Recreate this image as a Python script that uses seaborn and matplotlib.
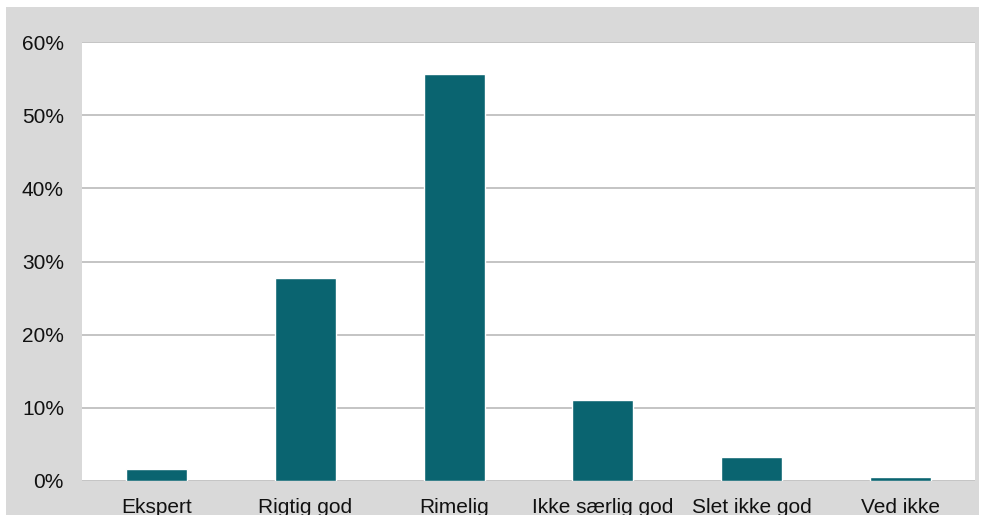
import matplotlib
matplotlib.use("Agg")
import matplotlib.pyplot as plt
import seaborn as sns
import pandas as pd
from matplotlib.patches import Rectangle
from matplotlib.ticker import FuncFormatter

categories = ["Ekspert", "Rigtig god", "Rimelig", "Ikke særlig god", "Slet ikke god", "Ved ikke"]
values = [1.7, 27.8, 55.6, 11.1, 3.3, 0.6]
yticks = [0, 10, 20, 30, 40, 50, 60]

df = pd.DataFrame({"cat": categories, "val": values})

sns.set_theme(style="white")
plt.rcParams["font.family"] = ["Liberation Sans", "DejaVu Sans"]

W, H = 984, 515
fig = plt.figure(figsize=(W / 100, H / 100), dpi=100, facecolor="white")
fig.patches.append(Rectangle((6 / W, 0), (979 - 6) / W, (515 - 7) / H,
                             transform=fig.transFigure, facecolor="#d9d9d9",
                             edgecolor="none", zorder=-10))
ax = fig.add_axes([82 / W, (H - 481) / H, (975 - 82) / W, (481 - 42) / H])
ax.set_zorder(1)
ax.set_facecolor("white")

sns.barplot(data=df, x="cat", y="val", color="#0a6470", width=0.41,
            saturation=1, ax=ax, zorder=3)

ax.set_ylim(0, 60)
ax.set_xlim(-0.5, 5.5)
ax.set_yticks(yticks)
ax.yaxis.set_major_formatter(FuncFormatter(lambda v, p: f"{v:.0f}%"))
ax.grid(axis="y", color="#bfbfbf", linewidth=1.3, zorder=0)
ax.set_axisbelow(True)
for s in ax.spines.values():
    s.set_visible(False)
ax.set_xlabel("")
ax.set_ylabel("")
ax.tick_params(axis="y", length=0, pad=13, labelsize=15, labelcolor="#111111")
ax.tick_params(axis="x", length=0, pad=12, labelsize=15, labelcolor="#111111")

fig.savefig("out.png", dpi=100, facecolor="white")
